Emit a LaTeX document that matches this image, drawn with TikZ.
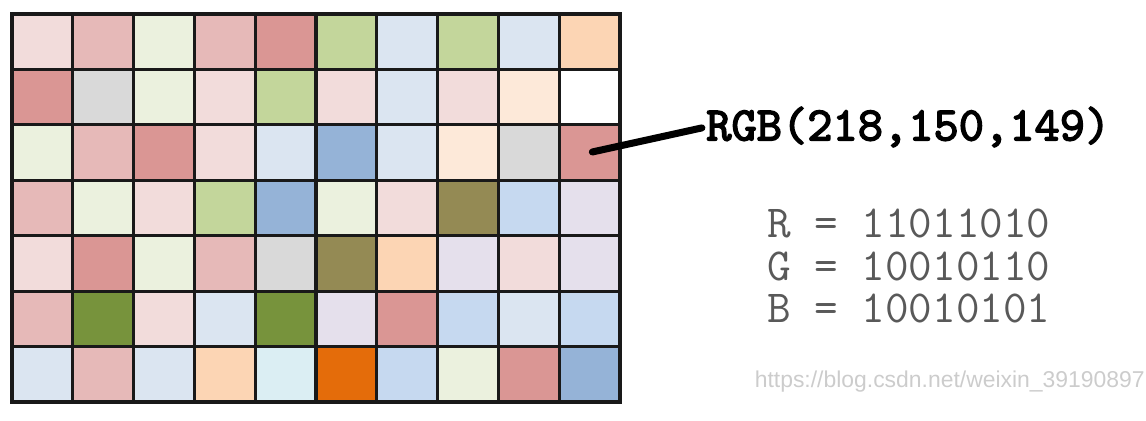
\documentclass[tikz,border=0pt]{standalone}
\usepackage{fontspec}
\setsansfont{Liberation Sans}
\newfontfamily\rgbfont{lmmono10-regular.otf}[FakeBold=3]
\usetikzlibrary{positioning}

% pixel colours
\definecolor{pk}{HTML}{F2DCDB}
\definecolor{rs}{HTML}{E6B9B8}
\definecolor{rd}{HTML}{DA9694}
\definecolor{gn}{HTML}{C3D69B}
\definecolor{cr}{HTML}{EBF1DE}
\definecolor{lb}{HTML}{DBE5F1}
\definecolor{bl}{HTML}{95B3D7}
\definecolor{sb}{HTML}{C6D9F0}
\definecolor{cy}{HTML}{DBEEF3}
\definecolor{pe}{HTML}{FCD5B4}
\definecolor{lp}{HTML}{FDE9D9}
\definecolor{gy}{HTML}{D9D9D9}
\definecolor{ol}{HTML}{948A54}
\definecolor{dg}{HTML}{77933C}
\definecolor{or}{HTML}{E46C0A}
\definecolor{lv}{HTML}{E5E0EC}
\definecolor{wh}{HTML}{FFFFFF}

\begin{document}
\begin{tikzpicture}[
    x=0.025cm, y=-0.025cm,
    cell/.style={draw=black!90, line width=2.2pt, minimum width=1.52cm, minimum height=1.385cm, inner sep=0pt},
    rgblbl/.style={inner sep=0pt, anchor=west, font=\rgbfont\fontsize{34.2}{38}\selectfont},
    binlbl/.style={inner sep=0pt, anchor=west, align=left, text=black!65, font=\ttfamily\fontsize{32.6}{29.9}\selectfont}
  ]
  \useasboundingbox (0,0) rectangle (1146,421);

  % the image as a grid of pixels
  \foreach \row [count=\r] in {
      {pk,rs,cr,rs,rd,gn,lb,gn,lb,pe},
      {rd,gy,cr,pk,gn,pk,lb,pk,lp,wh},
      {cr,rs,rd,pk,lb,bl,lb,lp,gy,rd},
      {rs,cr,pk,gn,bl,cr,pk,ol,sb,lv},
      {pk,rd,cr,rs,gy,ol,pe,lv,pk,lv},
      {rs,dg,pk,lb,dg,lv,rd,sb,lb,sb},
      {lb,rs,lb,pe,cy,or,sb,cr,rd,bl}} {
    \foreach \col [count=\c] in \row {
      \node[cell, fill=\col] (cell-\r-\c) at ({12+60.8*(\c-0.5)},{14+55.43*(\r-0.5)}) {};
    }
  }

  \node[rgblbl] (rgb) at (706,127) {RGB(218,150,149)};
  \node[binlbl] (bits) at (767,266) {R = 11011010\\G = 10010110\\B = 10010101};
  \node[inner sep=0pt, anchor=east, text=black!20, font=\sffamily\fontsize{16.3}{18}\selectfont] (mark) at (1145,382) {https://blog.csdn.net/weixin\_39190897};

  \draw[line width=5pt, line cap=round, shorten <=2pt, shorten >=3pt] (cell-3-10.center) -- (rgb.west);
\end{tikzpicture}
\end{document}
